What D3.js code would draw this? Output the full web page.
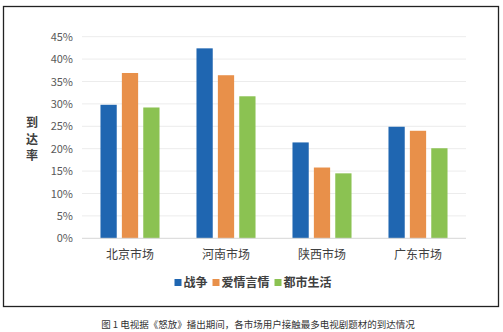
<!DOCTYPE html>
<html>
<head>
<meta charset="utf-8">
<script src="https://cdn.jsdelivr.net/npm/d3@7"></script>
<style>
  html, body { margin: 0; padding: 0; background: #fff; }
  svg { display: block; }
  text { font-family: "Noto Sans CJK SC", "Noto Sans", sans-serif; }
</style>
</head>
<body>
<svg id="chart" width="503" height="332"></svg>
<script>
// Markets and genres
const markets = ["北京市场", "河南市场", "陕西市场", "广东市场"];
const genres = ["战争", "爱情言情", "都市生活"];
const colors = ["#1f66b1", "#e8904a", "#8bc252"];

// Reach (%) per genre, one value per market
const warReach = [29.8, 42.4, 21.4, 24.9];
const romanceReach = [36.9, 36.4, 15.8, 24.0];
const urbanReach = [29.2, 31.7, 14.5, 20.1];
const series = [warReach, romanceReach, urbanReach];

const yTicks = [0, 5, 10, 15, 20, 25, 30, 35, 40, 45];
const yTitle = ["到", "达", "率"];
const caption = "图 1  电视据《怒放》播出期间，各市场用户接触最多电视剧题材的到达情况";

const svg = d3.select("#chart");

// Outer frame
svg.append("rect")
  .attr("x", 3.5).attr("y", 6.5)
  .attr("width", 495).attr("height", 300)
  .attr("fill", "none").attr("stroke", "#222").attr("stroke-width", 1.3);

const plot = { left: 82, right: 466, top: 36.7, bottom: 238.3 };

const x0 = d3.scaleBand().domain(markets).range([plot.left, plot.right]).paddingInner(0.385).paddingOuter(0.1925);
const x1 = d3.scaleBand().domain(genres).range([0, x0.bandwidth()]).paddingInner(0.24);
const y = d3.scaleLinear().domain([0, 45]).range([plot.bottom, plot.top]);

// Horizontal gridlines
svg.append("g")
  .selectAll("line")
  .data(yTicks.filter(t => t > 0))
  .join("line")
  .attr("x1", plot.left).attr("x2", plot.right)
  .attr("y1", d => y(d)).attr("y2", d => y(d))
  .attr("stroke", "#ececec").attr("stroke-width", 1);

// Y axis labels
const yAxis = d3.axisLeft(y).tickValues(yTicks).tickFormat(d => d + "%").tickSize(0).tickPadding(9);
const yg = svg.append("g").attr("transform", `translate(${plot.left},0)`).call(yAxis);
yg.select(".domain").remove();
yg.selectAll("text")
  .attr("fill", "#595959")
  .style("font-family", "'Noto Sans CJK SC', sans-serif")
  .style("font-size", "11px");

// Bars
const groups = svg.append("g")
  .selectAll("g")
  .data(markets)
  .join("g")
  .attr("transform", d => `translate(${x0(d)},0)`);

groups.selectAll("rect")
  .data((m, i) => genres.map((g, k) => ({ genre: g, value: series[k][i], k })))
  .join("rect")
  .attr("x", d => x1(d.genre))
  .attr("width", x1.bandwidth())
  .attr("y", d => y(d.value))
  .attr("height", d => y(0) - y(d.value))
  .attr("fill", d => colors[d.k]);

// Baseline
svg.append("line")
  .attr("x1", plot.left).attr("x2", plot.right)
  .attr("y1", y(0)).attr("y2", y(0))
  .attr("stroke", "#d6d6d6").attr("stroke-width", 1);

// Category labels
const xAxis = d3.axisBottom(x0).tickSize(0).tickPadding(12);
const xg = svg.append("g").attr("transform", `translate(0,${plot.bottom})`).call(xAxis);
xg.select(".domain").remove();
xg.selectAll("text")
  .attr("fill", "#404040")
  .style("font-family", "'Noto Sans CJK SC', sans-serif")
  .style("font-size", "12px");

// Vertical axis title
svg.append("g")
  .selectAll("text")
  .data(yTitle)
  .join("text")
  .attr("x", 32)
  .attr("y", (d, i) => 127 + i * 16.5)
  .attr("text-anchor", "middle")
  .attr("fill", "#404040")
  .style("font-size", "12px")
  .style("font-weight", "bold")
  .text(d => d);

// Legend
const legendX = [174.5, 212.5, 274.5];
const legend = svg.append("g")
  .selectAll("g")
  .data(genres)
  .join("g")
  .attr("transform", (d, i) => `translate(${legendX[i]},282.5)`);
legend.append("rect")
  .attr("x", 0).attr("y", -3.5).attr("width", 7).attr("height", 7)
  .attr("fill", (d, i) => colors[i]);
legend.append("text")
  .attr("x", 9).attr("y", 4.5)
  .attr("fill", "#404040")
  .style("font-size", "12px")
  .style("font-weight", "bold")
  .text(d => d);

// Caption
svg.append("text")
  .attr("x", 258).attr("y", 327.5)
  .attr("text-anchor", "middle")
  .attr("fill", "#333")
  .style("font-size", "9.5px")
  .text(caption);
</script>
</body>
</html>
